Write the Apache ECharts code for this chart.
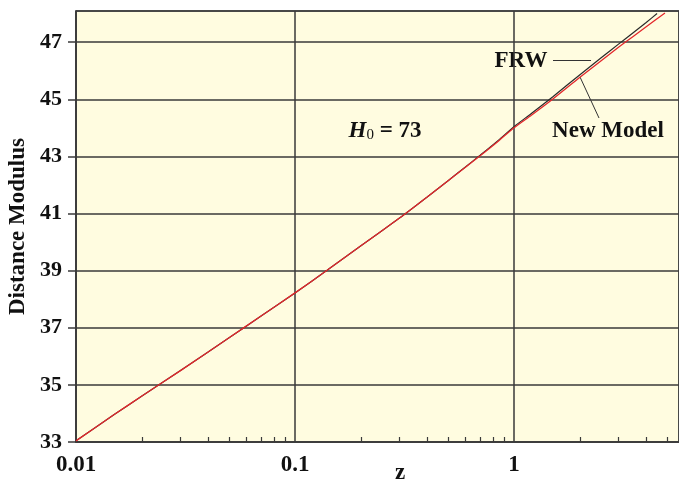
<!DOCTYPE html>
<html>
<head>
<meta charset="utf-8">
<script src="https://cdn.jsdelivr.net/npm/echarts@6/dist/echarts.min.js"></script>
<style>
html,body{margin:0;padding:0;background:#fff;}
#c{width:679px;height:480px;}
</style>
</head>
<body>
<div id="c"></div>
<script>
// ---- data ----
var xTickLabels = ['0.01', '0.1', '1'];
var xMinorTicks = [0.02,0.03,0.04,0.05,0.06,0.07,0.08,0.09,0.2,0.3,0.4,0.5,0.6,0.7,0.8,0.9,2,3,4,5];
var yTickLabels = [33, 35, 37, 39, 41, 43, 45, 47];

var frwZ  = [0.01, 0.015, 0.02, 0.03, 0.05, 0.07, 0.1, 0.14, 0.2, 0.3, 0.4, 0.5, 0.6, 0.7, 0.85, 1.0, 1.2, 1.5, 2.0, 2.5, 3.0, 3.5, 4.0, 4.5];
var frwMu = [33.04, 33.97, 34.61, 35.5, 36.65, 37.41, 38.22, 39.01, 39.87, 40.84, 41.57, 42.15, 42.63, 43.04, 43.57, 44.04, 44.5, 45.08, 45.86, 46.45, 46.93, 47.33, 47.68, 48.0];

var newZ  = [0.01, 0.015, 0.02, 0.03, 0.05, 0.07, 0.1, 0.14, 0.2, 0.3, 0.4, 0.5, 0.6, 0.7, 0.85, 1.0, 1.2, 1.5, 2.0, 2.5, 3.0, 3.5, 4.0, 4.89];
var newMu = [33.04, 33.97, 34.61, 35.5, 36.65, 37.41, 38.22, 39.01, 39.87, 40.84, 41.57, 42.15, 42.62, 43.02, 43.54, 44.0, 44.44, 45.0, 45.77, 46.35, 46.82, 47.2, 47.53, 48.02];

function pairs(xs, ys){ var o=[]; for(var i=0;i<xs.length;i++) o.push([xs[i], ys[i]]); return o; }

var FONT = '"Liberation Serif", "DejaVu Serif", serif';
var chart = echarts.init(document.getElementById('c'), null, {renderer:'canvas'});
var option = {
  animation: false,
  backgroundColor: '#ffffff',
  grid: {
    left: 76, top: 11, right: 0, bottom: 38,
    containLabel: false, outerBoundsMode: 'none',
    show: true, backgroundColor: '#fffce0',
    borderColor: '#4a4a4a', borderWidth: 1.5
  },
  xAxis: [{
    type: 'log', logBase: 10, min: 0.01, max: 5.667,
    axisLine: {show: true, onZero: false, lineStyle: {color: '#3a3a3a', width: 1.5}},
    axisTick: {show: false},
    splitLine: {show: true, lineStyle: {color: '#3a3a3a', width: 1.5}},
    minorTick: {show: false},
    axisLabel: {
      margin: 12, color: '#111', fontFamily: FONT, fontWeight: 'bold', fontSize: 23,
      showMaxLabel: false,
      formatter: function(v){
        for (var i=0;i<xTickLabels.length;i++){
          if (Math.abs(v - parseFloat(xTickLabels[i])) < 1e-9 * Math.max(1,v) + 1e-12) return xTickLabels[i];
        }
        return '';
      }
    }
  }, {
    type: 'log', logBase: 10, min: 0.01, max: 5.667, gridIndex: 0, position: 'bottom',
    axisLine: {show: false},
    axisLabel: {show: false},
    splitLine: {show: false},
    axisTick: {show: true, inside: true, length: 5, customValues: xMinorTicks,
               lineStyle: {color: '#3a3a3a', width: 1.2}}
  }],
  yAxis: {
    type: 'value', min: 33, max: 48.09, interval: 2,
    name: 'Distance Modulus', nameLocation: 'middle', nameGap: 46,
    nameTextStyle: {color: '#111', fontFamily: FONT, fontWeight: 'bold', fontSize: 23},
    axisLine: {show: true, lineStyle: {color: '#3a3a3a', width: 1.5}},
    axisTick: {show: true, inside: false, length: 8, lineStyle: {color: '#3a3a3a', width: 1.5}},
    splitLine: {show: true, lineStyle: {color: '#3a3a3a', width: 1.5}},
    axisLabel: {
      margin: 14, color: '#111', fontFamily: FONT, fontWeight: 'bold', fontSize: 22,
      showMaxLabel: false,
      formatter: function(v){ return yTickLabels.indexOf(Math.round(v*1000)/1000) >= 0 ? String(Math.round(v)) : ''; }
    }
  },
  series: [{
    name: 'FRW', type: 'line', xAxisIndex: 0, data: pairs(frwZ, frwMu),
    showSymbol: false, smooth: 0.2, z: 3,
    lineStyle: {color: '#2a2a2a', width: 1.2}
  }, {
    name: 'New Model', type: 'line', xAxisIndex: 0, data: pairs(newZ, newMu),
    showSymbol: false, smooth: 0.2, z: 4,
    lineStyle: {color: '#e3272b', width: 1.3}
  }],
  graphic: [
    {type: 'text', x: 400, y: 473, style: {text: 'z', fill: '#111', font: 'bold 23px ' + FONT, align: 'center', verticalAlign: 'middle'}},
    {type: 'text', x: 521, y: 61, style: {text: 'FRW', fill: '#111', font: 'bold 23px ' + FONT, align: 'center', verticalAlign: 'middle'}},
    {type: 'line', shape: {x1: 553, y1: 60.5, x2: 591, y2: 60.5}, style: {stroke: '#333', lineWidth: 1}},
    {type: 'text', x: 608, y: 131, style: {text: 'New Model', fill: '#111', font: 'bold 23px ' + FONT, align: 'center', verticalAlign: 'middle'}},
    {type: 'line', shape: {x1: 580, y1: 77, x2: 599, y2: 118}, style: {stroke: '#333', lineWidth: 1}},
    {type: 'text', x: 385, y: 131, style: {
      text: '{i|H}{s|0}{n| = 73}', align: 'center', verticalAlign: 'middle',
      rich: {
        i: {fontFamily: FONT, fontStyle: 'italic', fontWeight: 'bold', fontSize: 23, fill: '#111', color: '#111'},
        s: {fontFamily: FONT, fontWeight: 'normal', fontSize: 15, fill: '#111', color: '#111', verticalAlign: 'bottom', padding: [9,0,0,0]},
        n: {fontFamily: FONT, fontWeight: 'bold', fontSize: 23, fill: '#111', color: '#111'}
      }
    }}
  ]
};
chart.setOption(option);
</script>
</body>
</html>
